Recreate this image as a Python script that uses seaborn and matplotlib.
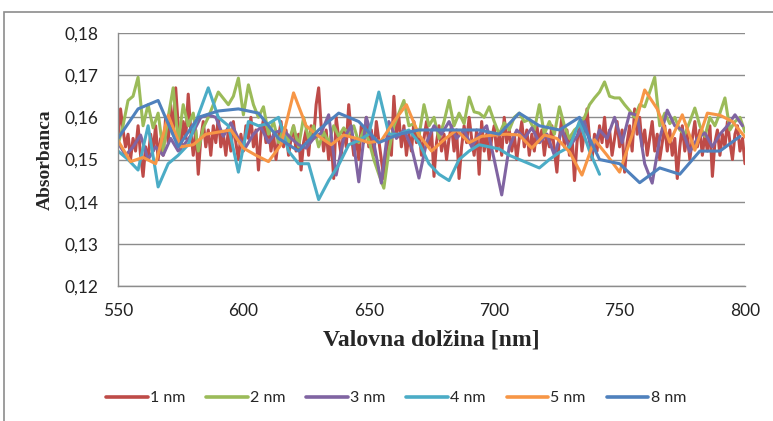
import numpy as np
import pandas as pd
import matplotlib
matplotlib.use("Agg")
import matplotlib.pyplot as plt
import seaborn as sns
from matplotlib.patches import Rectangle
from matplotlib.ticker import FuncFormatter

# ---------------- data ----------------
series_names = ["1 nm", "2 nm", "3 nm", "4 nm", "5 nm", "8 nm"]
series_steps = [1, 2, 3, 4, 5, 8]  # wavelength step (nm) of each series
start_nm = 550

red_1nm = [
    0.155, 0.162, 0.157, 0.153, 0.156, 0.150, 0.155, 0.152, 0.158, 0.151,
    0.146, 0.153, 0.150, 0.156, 0.152, 0.158, 0.150, 0.155, 0.151, 0.160,
    0.154, 0.163, 0.156, 0.167, 0.158, 0.152, 0.159, 0.155, 0.1655, 0.157,
    0.151, 0.157, 0.1465, 0.155, 0.159, 0.153, 0.157, 0.151, 0.158, 0.154,
    0.160, 0.153, 0.156, 0.151, 0.157, 0.152, 0.159, 0.154, 0.150, 0.156,
    0.152, 0.158, 0.155, 0.160, 0.153, 0.157, 0.1475, 0.156, 0.1595, 0.154,
    0.158, 0.152, 0.156, 0.150, 0.155, 0.159, 0.153, 0.157, 0.151, 0.155,
    0.158, 0.152, 0.156, 0.1475, 0.154, 0.157, 0.151, 0.158, 0.155, 0.163,
    0.167, 0.158, 0.152, 0.157, 0.150, 0.155, 0.1455, 0.160, 0.155, 0.151,
    0.157, 0.153, 0.163, 0.156, 0.151, 0.155, 0.150, 0.158, 0.154, 0.160,
    0.153, 0.157, 0.151, 0.159, 0.1545, 0.150, 0.1455, 0.152, 0.156, 0.151,
    0.165, 0.156, 0.160, 0.153, 0.158, 0.151, 0.156, 0.152, 0.159, 0.154,
    0.157, 0.151, 0.155, 0.159, 0.153, 0.157, 0.146, 0.154, 0.158, 0.152,
    0.156, 0.150, 0.155, 0.158, 0.152, 0.157, 0.1455, 0.153, 0.158, 0.154,
    0.160, 0.155, 0.151, 0.157, 0.1465, 0.159, 0.152, 0.156, 0.150, 0.155,
    0.158, 0.152, 0.156, 0.151, 0.160, 0.154, 0.157, 0.152, 0.156, 0.150,
    0.155, 0.159, 0.153, 0.157, 0.151, 0.156, 0.152, 0.158, 0.154, 0.157,
    0.151, 0.156, 0.153, 0.158, 0.152, 0.147, 0.155, 0.160, 0.153, 0.157,
    0.151, 0.156, 0.145, 0.154, 0.159, 0.152, 0.157, 0.162, 0.155, 0.150,
    0.156, 0.152, 0.158, 0.154, 0.160, 0.153, 0.157, 0.151, 0.155, 0.159,
    0.153, 0.157, 0.147, 0.154, 0.158, 0.152, 0.162, 0.156, 0.160, 0.153,
    0.157, 0.151, 0.155, 0.159, 0.152, 0.156, 0.150, 0.154, 0.158, 0.152,
    0.157, 0.151, 0.155, 0.1455, 0.153, 0.158, 0.152, 0.156, 0.150, 0.155,
    0.159, 0.153, 0.157, 0.151, 0.156, 0.152, 0.158, 0.146, 0.154, 0.157,
    0.151, 0.156, 0.153, 0.159, 0.154, 0.150, 0.156, 0.158, 0.152, 0.155,
    0.149,
]

green_2nm = [
    0.1535, 0.158, 0.164, 0.165, 0.1695, 0.158, 0.163, 0.1575, 0.161, 0.152,
    0.160, 0.167, 0.154, 0.163, 0.158, 0.161, 0.152, 0.1575, 0.160, 0.163,
    0.166, 0.1645, 0.163, 0.165, 0.1693, 0.1606, 0.1677, 0.163, 0.160, 0.1625,
    0.156, 0.159, 0.154, 0.1575, 0.1541, 0.158, 0.153, 0.160, 0.155, 0.158,
    0.153, 0.1565, 0.154, 0.158, 0.1555, 0.1575, 0.156, 0.158, 0.154, 0.157,
    0.1545, 0.150, 0.1465, 0.1432, 0.152, 0.158, 0.161, 0.164, 0.158, 0.1585,
    0.1555, 0.163, 0.158, 0.160, 0.155, 0.159, 0.164, 0.158, 0.161, 0.1585,
    0.1648, 0.1613, 0.161, 0.160, 0.1625, 0.159, 0.156, 0.1587, 0.157, 0.160,
    0.161, 0.159, 0.1595, 0.157, 0.163, 0.156, 0.159, 0.156, 0.1625, 0.158,
    0.155, 0.157, 0.158, 0.160, 0.163, 0.1646, 0.166, 0.1684, 0.165, 0.1646,
    0.1646, 0.163, 0.1616, 0.160, 0.163, 0.1625, 0.166, 0.1695, 0.158, 0.161,
    0.1585, 0.160, 0.157, 0.156, 0.159, 0.1622, 0.158, 0.1555, 0.160, 0.158,
    0.161, 0.1646, 0.157, 0.159, 0.160, 0.1565,
]

purple_3nm = [
    0.154, 0.151, 0.153, 0.1558, 0.150, 0.153, 0.151, 0.155, 0.152, 0.154,
    0.1565, 0.160, 0.1606, 0.160, 0.1555, 0.1587, 0.155, 0.153, 0.156, 0.1577,
    0.154, 0.1565, 0.157, 0.155, 0.1535, 0.1527, 0.155, 0.1563, 0.1606, 0.1463,
    0.155, 0.158, 0.1447, 0.160, 0.154, 0.1444, 0.159, 0.155, 0.157, 0.153,
    0.1456, 0.154, 0.158, 0.156, 0.159, 0.155, 0.157, 0.153, 0.156, 0.158,
    0.150, 0.1416, 0.153, 0.157, 0.155, 0.1575, 0.154, 0.156, 0.151, 0.157,
    0.153, 0.1555, 0.159, 0.152, 0.157, 0.155, 0.160, 0.154, 0.161, 0.1605,
    0.149, 0.1444, 0.155, 0.1617, 0.158, 0.157, 0.1518, 0.155, 0.1563, 0.153,
    0.156, 0.158, 0.1606, 0.158,
]

teal_4nm = [
    0.152, 0.150, 0.1475, 0.158, 0.1435, 0.149, 0.151, 0.1535, 0.1605, 0.167,
    0.160, 0.158, 0.147, 0.159, 0.158, 0.1585, 0.160, 0.152, 0.149, 0.149,
    0.1405, 0.145, 0.1487, 0.1535, 0.1545, 0.156, 0.166, 0.156, 0.156, 0.157,
    0.154, 0.149, 0.1465, 0.145, 0.150, 0.152, 0.1535, 0.153, 0.1525, 0.151,
    0.150, 0.149, 0.148, 0.150, 0.1517, 0.153, 0.159, 0.152, 0.1465,
]

orange_5nm = [
    0.1545, 0.1495, 0.1505, 0.149, 0.1605, 0.153, 0.1535, 0.156, 0.1565, 0.157,
    0.1527, 0.151, 0.1495, 0.1535, 0.1658, 0.158, 0.1555, 0.1535, 0.1558, 0.155,
    0.154, 0.1545, 0.159, 0.163, 0.1558, 0.152, 0.1547, 0.157, 0.154, 0.1555,
    0.1558, 0.156, 0.1558, 0.1527, 0.1558, 0.155, 0.1518, 0.1463, 0.1547, 0.151,
    0.147, 0.1558, 0.1665, 0.162, 0.1541, 0.1606, 0.1522, 0.161, 0.1605, 0.159,
    0.1553,
]

blue_8nm = [
    0.155, 0.162, 0.164, 0.153, 0.160, 0.1615, 0.162, 0.161, 0.155, 0.152,
    0.157, 0.161, 0.159, 0.154, 0.156, 0.157, 0.157, 0.157, 0.157, 0.156,
    0.161, 0.158, 0.157, 0.160, 0.150, 0.149, 0.1445, 0.148, 0.1465, 0.152,
    0.152, 0.1555,
]

series_values = [red_1nm, green_2nm, purple_3nm, teal_4nm, orange_5nm, blue_8nm]

x_ticks = [550, 600, 650, 700, 750, 800]
y_ticks = [0.12, 0.13, 0.14, 0.15, 0.16, 0.17, 0.18]
x_label = "Valovna dolžina [nm]"
y_label = "Absorbanca"

colors = ["#BE4B48", "#9BBB59", "#8064A2", "#4BACC6", "#F79646", "#4F81BD"]

# ---------------- build long table ----------------
frames = []
for name, step, vals in zip(series_names, series_steps, series_values):
    wl = start_nm + step * np.arange(len(vals))
    frames.append(pd.DataFrame({"wl": wl, "abs": vals, "series": name}))
df = pd.concat(frames, ignore_index=True)

# ---------------- plot ----------------
sns.set_theme(style="white")
plt.rcParams["font.family"] = ["Lato", "DejaVu Sans"]

W, H = 773, 421
fig = plt.figure(figsize=(W / 100, H / 100), dpi=100)
ax = fig.add_axes([118 / W, 1 - 286 / H, (745 - 118) / W, (286 - 33) / H])

sns.lineplot(data=df, x="wl", y="abs", hue="series", hue_order=series_names,
             palette=colors, linewidth=2.2, ax=ax, legend=True,
             estimator=None, sort=True)

ax.set_xlim(550, 800)
ax.set_ylim(0.12, 0.18)
ax.set_xticks(x_ticks)
ax.set_yticks(y_ticks)
ax.yaxis.set_major_formatter(FuncFormatter(lambda v, p: f"{v:.2f}".replace(".", ",")))
ax.xaxis.set_major_formatter(FuncFormatter(lambda v, p: f"{int(round(v))}"))
ax.grid(axis="y", color="#8C8C8C", linewidth=1.0)
ax.set_axisbelow(True)
for s in ["top", "right"]:
    ax.spines[s].set_visible(False)
ax.spines["left"].set_color("#8C8C8C")
ax.spines["bottom"].set_color("#8C8C8C")
ax.spines["left"].set_linewidth(1.0)
ax.spines["bottom"].set_linewidth(1.0)
ax.tick_params(axis="both", length=0, labelsize=12.5, colors="#222222")
ax.tick_params(axis="x", pad=12)
ax.tick_params(axis="y", pad=14)

ax.set_xlabel(x_label, fontsize=17, fontweight="bold",
              family=["Liberation Serif", "DejaVu Serif"], labelpad=8)
ax.set_ylabel(y_label, fontsize=14, fontweight="bold",
              family=["Liberation Serif", "DejaVu Serif"], labelpad=8)

handles, labels = ax.get_legend_handles_labels()
ax.legend_.remove()
for h in handles:
    h.set_linewidth(2.6)
fig.legend(handles, labels, loc="center", bbox_to_anchor=(396 / W, 1 - 398 / H),
           ncol=6, frameon=False, fontsize=11.5, handlelength=2.6,
           handletextpad=0.15, columnspacing=1.3)

# outer chart border (Excel style)
fig.patches.append(Rectangle((4 / W, -0.1), 1.2, 1 - 12 / H + 0.1,
                             transform=fig.transFigure, fill=False,
                             edgecolor="#8C8C8C", linewidth=1.2))

fig.savefig("out.png", dpi=100)
